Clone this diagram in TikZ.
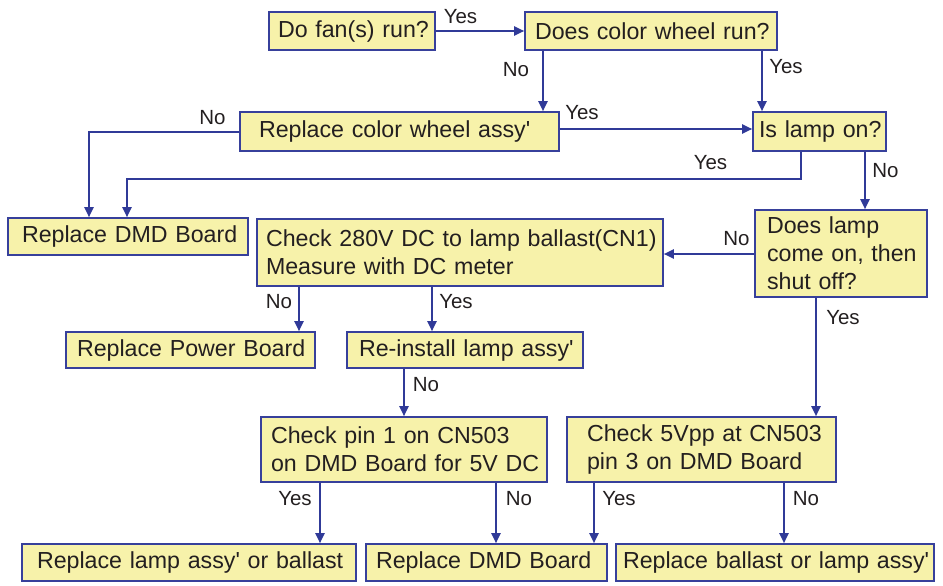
\documentclass[tikz,border=0pt]{standalone}
\usepackage{fontspec}
\newfontfamily\libsans{Liberation Sans}
\usetikzlibrary{arrows.meta}
\definecolor{boxfill}{RGB}{247,242,170}
\definecolor{boxline}{RGB}{55,64,155}
\definecolor{arrcol}{RGB}{48,58,152}
\definecolor{txt}{RGB}{35,31,32}
\begin{document}
\begin{tikzpicture}[x=1pt,y=-1pt,
  box/.style={draw=boxline, fill=boxfill, line width=1.6pt, text=txt,
    font=\libsans\fontsize{23.2}{28}\selectfont, align=left, inner ysep=0pt, anchor=center},
  lbl/.style={text=txt, font=\libsans\fontsize{20.5}{24}\selectfont, inner sep=0pt},
  arr/.style={draw=arrcol, line width=2pt, -{Triangle[length=10pt,width=9pt]}}]
\useasboundingbox (0,0) rectangle (943,586);
% boxes
\node[box, minimum width=166pt, minimum height=38pt, inner xsep=9pt, text width=148pt] (fan) at (352,31) {\mbox{Do fan(s) run?}};
\node[box, minimum width=252pt, minimum height=38pt, inner xsep=10pt, text width=232pt] (wheel) at (651,31) {\mbox{Does color wheel run?}};
\node[box, minimum width=319pt, minimum height=39pt, inner xsep=19pt, text width=281pt] (cw) at (399.5,131.5) {\mbox{Replace color wheel assy'}};
\node[box, minimum width=133pt, minimum height=39pt, inner xsep=6pt, text width=121pt] (lampon) at (819.5,131.5) {\mbox{Is lamp on?}};
\node[box, minimum width=240pt, minimum height=37pt, inner xsep=14pt, text width=212pt] (dmd1) at (128,236.5) {\mbox{Replace DMD Board}};
\node[box, minimum width=406pt, minimum height=67pt, inner xsep=9pt, text width=388pt] (chk280) at (460,252.5) {\mbox{Check 280V DC to lamp ballast(CN1)}\\\mbox{Measure with DC meter}};
\node[box, minimum width=172pt, minimum height=87pt, inner xsep=12pt, text width=148pt] (doeslamp) at (841,253.5) {\mbox{Does lamp}\\\mbox{come on, then}\\\mbox{shut off?}};
\node[box, minimum width=249pt, minimum height=36pt, inner xsep=11pt, text width=227pt] (power) at (190.5,350) {\mbox{Replace Power Board}};
\node[box, minimum width=236pt, minimum height=36pt, inner xsep=12pt, text width=212pt] (reinst) at (465,350) {\mbox{Re-install lamp assy'}};
\node[box, minimum width=286pt, minimum height=65pt, inner xsep=10pt, text width=266pt] (pin1) at (404,449.5) {\mbox{Check pin 1 on CN503}\\\mbox{on DMD Board for 5V DC}};
\node[box, minimum width=269pt, minimum height=65pt, inner xsep=20pt, text width=229pt] (vpp) at (701.5,449.5) {\mbox{Check 5Vpp at CN503}\\\mbox{pin 3 on DMD Board}};
\node[box, minimum width=334pt, minimum height=37pt, inner xsep=15pt, text width=304pt] (lampb) at (189,562.5) {\mbox{Replace lamp assy' or ballast}};
\node[box, minimum width=241pt, minimum height=37pt, inner xsep=10pt, text width=221pt] (dmd2) at (486.5,562.5) {\mbox{Replace DMD Board}};
\node[box, minimum width=318pt, minimum height=37pt, inner xsep=7pt, text width=304pt] (ballast) at (775,562.5) {\mbox{Replace ballast or lamp assy'}};
% connectors
\draw[arr] (fan.east) -- (wheel.west);
\draw[arr] (wheel.south -| 543,0) -- (cw.north -| 543,0);
\draw[arr] (wheel.south -| 762,0) -- (lampon.north -| 762,0);
\draw[arr] (cw.east |- 0,129) -- (lampon.west |- 0,129);
\draw[arr] (cw.west) -| (dmd1.north -| 89,0);
\draw[arr] (lampon.south -| 801,0) -- ++(0,27) -| (dmd1.north -| 127,0);
\draw[arr] (lampon.south -| 865,0) -- (doeslamp.north -| 865,0);
\draw[arr] (doeslamp.west |- 0,254) -- (chk280.east |- 0,254);
\draw[arr] (doeslamp.south -| 816,0) -- (vpp.north -| 816,0);
\draw[arr] (chk280.south -| 299,0) -- (power.north -| 299,0);
\draw[arr] (chk280.south -| 432,0) -- (reinst.north -| 432,0);
\draw[arr] (reinst.south -| 404,0) -- (pin1.north -| 404,0);
\draw[arr] (pin1.south -| 320,0) -- (lampb.north -| 320,0);
\draw[arr] (pin1.south -| 496,0) -- (dmd2.north -| 496,0);
\draw[arr] (vpp.south -| 594,0) -- (dmd2.north -| 594,0);
\draw[arr] (vpp.south -| 784,0) -- (ballast.north -| 784,0);
% labels
\node[lbl] (l1) at (460.5,17) {Yes};
\node[lbl] (l2) at (516,70) {No};
\node[lbl] (l3) at (786,67) {Yes};
\node[lbl] (l4) at (582,113) {Yes};
\node[lbl] (l5) at (212.5,118) {No};
\node[lbl] (l6) at (710.5,163) {Yes};
\node[lbl] (l7) at (885.5,171) {No};
\node[lbl] (l8) at (736.5,239) {No};
\node[lbl] (l9) at (843,318) {Yes};
\node[lbl] (l10) at (279,302) {No};
\node[lbl] (l11) at (456,302) {Yes};
\node[lbl] (l12) at (426,385) {No};
\node[lbl] (l13) at (295,499) {Yes};
\node[lbl] (l14) at (519,499) {No};
\node[lbl] (l15) at (619,499) {Yes};
\node[lbl] (l16) at (806,499) {No};
\end{tikzpicture}
\end{document}
